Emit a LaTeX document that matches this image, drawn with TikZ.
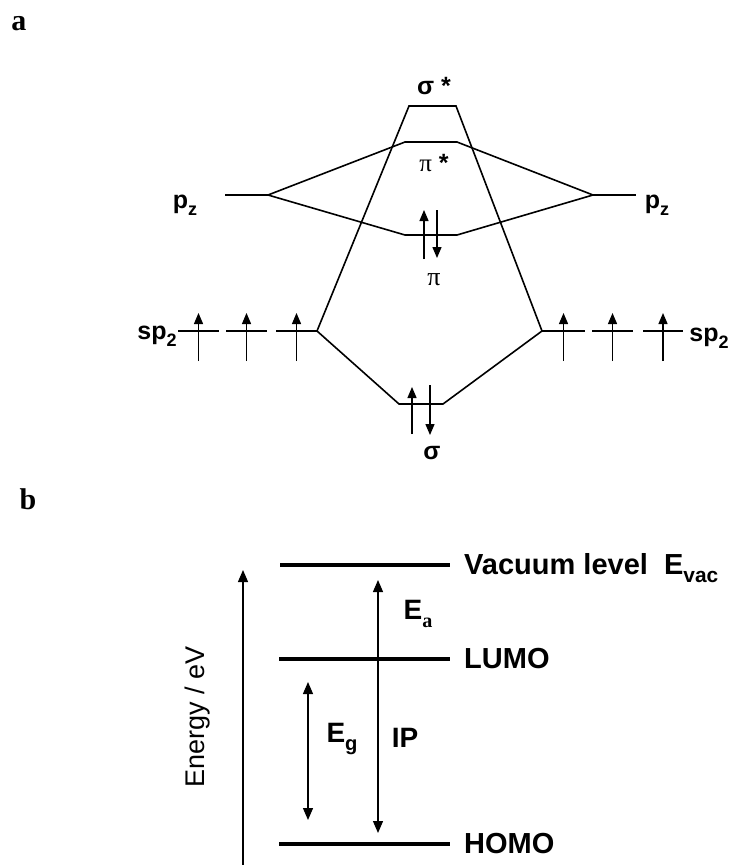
\documentclass[tikz,border=0pt]{standalone}
\usepackage{fontspec}
\setmainfont{Liberation Serif}
\setsansfont{Liberation Sans}
\usepackage{graphicx}
\usepackage{tikz}
\usetikzlibrary{arrows.meta}
\newcommand{\lowsub}[1]{\raisebox{-0.28em}{\scalebox{0.72}{#1}}}

\begin{document}
\begin{tikzpicture}[
  x=1pt, y=-1pt,
  mo/.style={line width=1.6pt},
  lvl/.style={line width=3.8pt},
  spin/.style={line width=1.3pt, -{Triangle[length=11pt,width=9pt]}},
  gap/.style={line width=1.3pt, {Triangle[length=12pt,width=10pt]}-{Triangle[length=12pt,width=10pt]}},
  axis/.style={line width=1.3pt, -{Triangle[length=12pt,width=10pt]}},
  lab/.style={inner sep=0pt, font=\sffamily\bfseries\fontsize{25}{28}\selectfont},
  glab/.style={inner sep=0pt, font=\rmfamily\fontsize{26}{28}\selectfont},
  blab/.style={inner sep=0pt, font=\sffamily\bfseries\fontsize{28}{30}\selectfont},
  big/.style={inner sep=0pt, anchor=west, font=\sffamily\bfseries\fontsize{29}{32}\selectfont},
  panel/.style={inner sep=0pt, font=\rmfamily\bfseries\fontsize{30}{32}\selectfont},
]
\useasboundingbox (0,0) rectangle (731,865);

% panel letters
\node[panel] (pa) at (19,24) {a};
\node[panel] (pb) at (28,499) {b};

% ---- a: molecular orbitals ----
\coordinate (pzL0) at (225,195); \coordinate (pzL) at (268,195);
\coordinate (pzR) at (593,195); \coordinate (pzR0) at (636,195);
\coordinate (ssL) at (409,106); \coordinate (ssR) at (456,106);
\coordinate (psL) at (405,142); \coordinate (psR) at (457,142);
\coordinate (piL) at (405,235); \coordinate (piR) at (457,235);
\coordinate (sgL) at (399,404); \coordinate (sgR) at (443,404);
\coordinate (spL) at (317,331); \coordinate (spR) at (542,331);

\draw[mo] (pzL0) -- (pzL);
\draw[mo] (pzR) -- (pzR0);
\draw[mo] (spL) -- (ssL) -- (ssR) -- (spR);
\draw[mo] (pzL) -- (psL) -- (psR) -- (pzR);
\draw[mo] (pzL) -- (piL) -- (piR) -- (pzR);
\draw[mo] (spL) -- (sgL) -- (sgR) -- (spR);

% sp2 levels with one electron each
\foreach \xa/\xb in {178/219,226/267,276/317,542/585,592/633,643/683}{
  \draw[mo] (\xa,331) -- (\xb,331);
  \draw[spin] ({(\xa+\xb)/2},361) -- ({(\xa+\xb)/2},313);
}

% paired electrons
\draw[spin] (424,259) -- (424,210);
\draw[spin] (437,210) -- (437,258);
\draw[spin] (412,434) -- (412,387);
\draw[spin] (430,385) -- (430,435);

\node[lab] (lss) at (434,86) {σ *};
\node[lab] (lps) at (434,163) {{\rmfamily\mdseries π} *};
\node[glab] (lpi) at (434,280) {π};
\node[lab] (lsg) at (432,453) {σ};
\node[lab] (lpzL) at (185,205) {p\lowsub{z}};
\node[lab] (lpzR) at (657,205) {p\lowsub{z}};
\node[lab] (lspL) at (157,336) {sp\lowsub{2}};
\node[lab] (lspR) at (709,338) {sp\lowsub{2}};

% ---- b: energy levels ----
\coordinate (vacL) at (280,565); \coordinate (vacR) at (450,565);
\coordinate (lumoL) at (279,659); \coordinate (lumoR) at (450,659);
\coordinate (homoL) at (279,844); \coordinate (homoR) at (450,844);
\draw[lvl] (vacL) -- (vacR);
\draw[lvl] (lumoL) -- (lumoR);
\draw[lvl] (homoL) -- (homoR);

\node[big] (vac) at (464,568) {Vacuum level~~E\lowsub{vac}};
\node[big] (lumo) at (464,659) {LUMO};
\node[big] (homo) at (464,844) {HOMO};

\coordinate (axB) at (243,865); \coordinate (axT) at (243,570);
\draw[axis] (axB) -- (axT);
\node[rotate=90, inner sep=0pt, font=\sffamily\fontsize{27}{29}\selectfont] (en) at (198,717) {Energy / eV};

\coordinate (ipT) at (378,580); \coordinate (ipB) at (378,833);
\draw[gap] (ipT) -- (ipB);
\coordinate (egT) at (308,682); \coordinate (egB) at (308,820);
\draw[gap] (egT) -- (egB);

\node[blab] (ea) at (418,614) {E\lowsub{\rmfamily a}};
\node[blab] (eg) at (342,739) {E\lowsub{g}};
\node[blab] (ip) at (405,738) {IP};
\end{tikzpicture}
\end{document}
